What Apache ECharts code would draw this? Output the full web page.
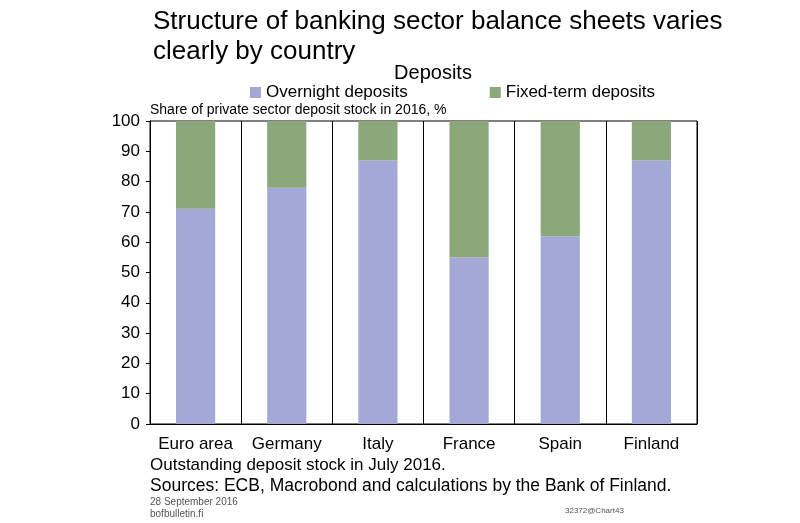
<!DOCTYPE html>
<html><head><meta charset="utf-8">
<script src="https://cdn.jsdelivr.net/npm/echarts@6/dist/echarts.min.js"></script>
<style>html,body{margin:0;padding:0;background:#fff}#c{width:800px;height:523px}</style>
</head><body><div id="c"></div>
<script>
const categories = ['Euro area','Germany','Italy','France','Spain','Finland'];
const overnight = [71, 78, 87, 55, 62, 87];
const fixedTerm = [29, 22, 13, 45, 38, 13];
const yTicks = [0,10,20,30,40,50,60,70,80,90,100];

const chart = echarts.init(document.getElementById('c'));
const F = 'Liberation Sans, Arial, sans-serif';
chart.setOption({
  animation: false,
  textStyle: {fontFamily: F},
  title: [
    {text: 'Structure of banking sector balance sheets varies\nclearly by country', left: 148, top: 2,
     textStyle: {fontSize: 26, fontWeight: 'normal', color: '#000', lineHeight: 30, fontFamily: F}},
    {text: 'Deposits', left: 428, top: 58, textAlign: 'center',
     textStyle: {fontSize: 20, fontWeight: 'normal', color: '#000', fontFamily: F}}
  ],
  legend: {top: 79, left: 245, itemWidth: 11, itemHeight: 11, itemGap: 82, icon: 'rect',
    textStyle: {fontSize: 17, color: '#000', fontFamily: F}, data: ['Overnight deposits','Fixed-term deposits']},
  grid: {left: 150, right: 103, top: 121, bottom: 99},
  xAxis: {type: 'category', data: categories,
    axisLine: {lineStyle: {color: '#000'}}, axisTick: {show: false},
    axisLabel: {color: '#000', fontSize: 17, margin: 12, interval: 0},
    splitLine: {show: true, interval: 0, lineStyle: {color: '#000', width: 1}}},
  yAxis: {type: 'value', min: 0, max: 100, interval: 10,
    axisLine: {show: true, lineStyle: {color: '#000'}}, axisTick: {show: true, length: 4, lineStyle: {color: '#000'}},
    axisLabel: {color: '#000', fontSize: 17, margin: 10,
      formatter: v => yTicks.includes(v) ? String(v) : ''},
    splitLine: {show: false}},
  series: [
    {name: 'Overnight deposits', type: 'bar', stack: 's', data: overnight, barWidth: '43%',
     itemStyle: {color: '#a3a8d6'}},
    {name: 'Fixed-term deposits', type: 'bar', stack: 's', data: fixedTerm, barWidth: '43%',
     itemStyle: {color: '#8aa87a'}}
  ],
  graphic: [
    {type: 'rect', shape: {x: 150, y: 121, width: 547, height: 303}, style: {fill: 'none', stroke: '#000', lineWidth: 1}, silent: true},
    {type: 'text', left: 150, top: 103, style: {text: 'Share of private sector deposit stock in 2016, %', fontSize: 14, fill: '#000', fontFamily: F}},
    {type: 'text', left: 150, top: 457, style: {text: 'Outstanding deposit stock in July 2016.', fontSize: 17, fill: '#000', fontFamily: F}},
    {type: 'text', left: 150, top: 477, style: {text: 'Sources: ECB, Macrobond and calculations by the Bank of Finland.', fontSize: 17.5, fill: '#000', fontFamily: F}},
    {type: 'text', left: 150, top: 497, style: {text: '28 September 2016', fontSize: 10, fill: '#555', fontFamily: F}},
    {type: 'text', left: 150, top: 509, style: {text: 'bofbulletin.fi', fontSize: 10, fill: '#555', fontFamily: F}},
    {type: 'text', left: 565, top: 507, style: {text: '32372@Chart43', fontSize: 8, fill: '#555', fontFamily: F}}
  ]
});
</script></body></html>
